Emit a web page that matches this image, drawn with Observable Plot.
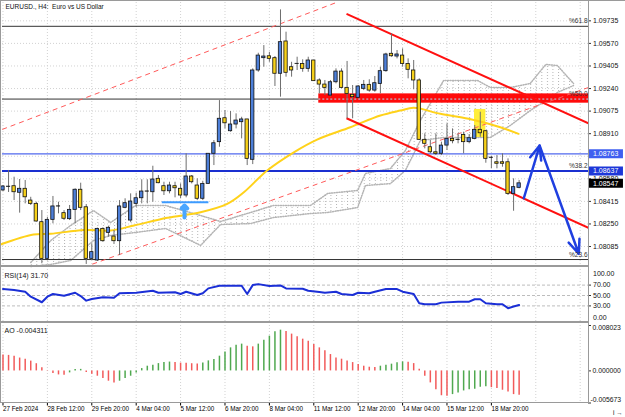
<!DOCTYPE html>
<html><head><meta charset="utf-8">
<script src="https://cdn.jsdelivr.net/npm/d3@7"></script>
<script src="https://cdn.jsdelivr.net/npm/@observablehq/plot@0.6"></script>
<style>
body{margin:0;background:#fff;}
#chart{position:relative;width:625px;height:417px;overflow:hidden;background:#fff;font-family:"Liberation Sans",Arial,sans-serif;}
#chart svg{position:absolute;left:0;}
.sep{position:absolute;background:#9a9a9a;}
</style></head><body><div id="chart"></div>
<script>
// ---------- data ----------
const title = "EURUSD., H4:  Euro vs US Dollar";
const opens  = [1.08495,1.08522,1.08526,1.08478,1.08507,1.08421,1.08397,1.08263,1.07995,1.08280,1.08378,1.08329,1.08285,1.08353,1.08500,1.08372,1.07995,1.07983,1.08214,1.08185,1.08158,1.08124,1.08368,1.08275,1.08397,1.08438,1.08487,1.08482,1.08580,1.08526,1.08489,1.08526,1.08507,1.08458,1.08597,1.08531,1.08434,1.08543,1.08763,1.08848,1.09023,1.08928,1.08977,1.08994,1.09014,1.08719,1.09372,1.09462,1.09476,1.09462,1.09348,1.09584,1.09396,1.09420,1.09420,1.09384,1.09445,1.09299,1.09269,1.09189,1.09286,1.09364,1.09245,1.09194,1.09172,1.09238,1.09267,1.09225,1.09274,1.09367,1.09494,1.09474,1.09481,1.09420,1.09372,1.09299,1.08865,1.08811,1.08774,1.08763,1.08823,1.08872,1.08865,1.08901,1.08848,1.08872,1.08938,1.08928,1.08734,1.08701,1.08701,1.08701,1.08470,1.08514];
const highs  = [1.08531,1.08641,1.08592,1.08575,1.08568,1.08445,1.08409,1.08348,1.08299,1.08451,1.08409,1.08348,1.08385,1.08507,1.08548,1.08392,1.08105,1.08220,1.08222,1.08231,1.08202,1.08421,1.08434,1.08470,1.08475,1.08573,1.08573,1.08672,1.08604,1.08555,1.08555,1.08555,1.08543,1.08763,1.08604,1.08580,1.08562,1.08763,1.08860,1.09152,1.09079,1.09072,1.09055,1.09030,1.09014,1.09384,1.09498,1.09554,1.09505,1.09474,1.09815,1.09652,1.09432,1.09469,1.09450,1.09469,1.09445,1.09311,1.09299,1.09299,1.09384,1.09384,1.09438,1.09262,1.09262,1.09299,1.09304,1.09328,1.09396,1.09498,1.09640,1.09518,1.09530,1.09457,1.09445,1.09311,1.08909,1.08860,1.08909,1.08848,1.08982,1.08945,1.08909,1.08921,1.08904,1.08970,1.09067,1.08933,1.08743,1.08750,1.08763,1.08726,1.08580,1.08568];
const lows   = [1.08487,1.08480,1.08421,1.08329,1.08397,1.08385,1.08263,1.07959,1.07990,1.08251,1.08324,1.08275,1.08275,1.08251,1.08348,1.07954,1.07983,1.07976,1.08116,1.08153,1.08100,1.08019,1.08361,1.08261,1.08372,1.08397,1.08397,1.08409,1.08544,1.08458,1.08470,1.08441,1.08434,1.08441,1.08543,1.08421,1.08421,1.08543,1.08677,1.08811,1.08945,1.08921,1.08945,1.08872,1.08677,1.08684,1.09359,1.09396,1.09432,1.09255,1.09177,1.09323,1.09323,1.09372,1.09359,1.09359,1.09294,1.09201,1.09189,1.09177,1.09274,1.09238,1.09019,1.09019,1.09165,1.09225,1.09213,1.09213,1.09201,1.09359,1.09469,1.09457,1.09396,1.09311,1.09231,1.08860,1.08799,1.08763,1.08750,1.08750,1.08787,1.08836,1.08836,1.08763,1.08836,1.08865,1.08884,1.08694,1.08653,1.08653,1.08665,1.08458,1.08343,1.08507];
const closes = [1.08524,1.08522,1.08482,1.08507,1.08445,1.08397,1.08268,1.07995,1.08280,1.08378,1.08378,1.08288,1.08353,1.08500,1.08368,1.07995,1.08044,1.08214,1.08124,1.08222,1.08124,1.08378,1.08402,1.08414,1.08438,1.08487,1.08487,1.08575,1.08548,1.08489,1.08531,1.08511,1.08458,1.08597,1.08555,1.08434,1.08543,1.08763,1.08840,1.09019,1.08986,1.08977,1.09006,1.09014,1.08726,1.09372,1.09481,1.09474,1.09457,1.09348,1.09579,1.09355,1.09372,1.09420,1.09384,1.09445,1.09294,1.09269,1.09245,1.09286,1.09364,1.09245,1.09201,1.09177,1.09255,1.09267,1.09225,1.09279,1.09367,1.09489,1.09476,1.09489,1.09420,1.09377,1.09299,1.08865,1.08836,1.08774,1.08763,1.08823,1.08872,1.08855,1.08865,1.08848,1.08877,1.08938,1.08913,1.08726,1.08734,1.08690,1.08690,1.08470,1.08519,1.08547];

const timeLabels = ["27 Feb 2024","28 Feb 12:00","29 Feb 20:00","4 Mar 04:00","5 Mar 12:00","6 Mar 20:00","8 Mar 04:00","11 Mar 12:00","12 Mar 20:00","14 Mar 04:00","15 Mar 12:00","18 Mar 20:00"];
const barsPerLabel = 8;
const priceTicks = [1.08085,1.08250,1.08415,1.08580,1.08745,1.08910,1.09075,1.09240,1.09405,1.09570,1.09735];

// moving average (yellow line) read at points: bar index, price
const maBars = [-0.45,5.5,8.6,14.6,19.4,23.6,29.6,35.6,40.4,43.4,47.6,52.4,56.6,62.6,68,71.6,74,78.8,83.9,89.6,92.9];
const maVals = [1.08100,1.08173,1.08178,1.08206,1.08202,1.08239,1.08295,1.08336,1.08397,1.08482,1.08641,1.08774,1.08867,1.08957,1.09043,1.09079,1.09099,1.09055,1.09019,1.08957,1.08909];

// Ichimoku cloud edges read at points
const cloudBars   = [5,8.6,12.2,16.3,19.4,23.9,29.3,35.6,39.2,44.6,48.7,55.4,58.5,63.9,65.3,69.8,72.5,75.2,79.4,85.5,87.8,91.4,95,97.8,99.9,102.8];
const cloudTop    = [1.07968,1.08129,1.08239,1.08348,1.08261,1.08385,1.08385,1.08312,1.08268,1.08334,1.08385,1.08385,1.08473,1.08495,1.08619,1.08655,1.08787,1.09006,1.09299,1.09299,1.09248,1.09248,1.09277,1.09416,1.09408,1.09277];
const cloudBottom = [1.07939,1.07954,1.07983,1.08129,1.08166,1.08188,1.08217,1.08093,1.08246,1.08253,1.08297,1.08326,1.08334,1.08370,1.08531,1.08545,1.08641,1.08860,1.08882,1.08882,1.08882,1.08970,1.09079,1.09152,1.09211,1.09262];

// RSI(14) read at points
const rsiBars = [0,2,4,5,7,8,9,11,13,14,15,16,18,20,21,24,27,28,31,32,33,35,36,37,39,43,44,45,46,48,50,51,54,55,57,58,60,61,63,64,66,67,69,71,72,74,75,76,78,79,82,84,85,86,87,89,90,91,92,93];
const rsiVals = [62.4,60.5,57.3,47.7,37,47.7,52.9,49.6,55.3,49,40.1,43.3,46.5,45.8,54.2,55.3,59.2,55.3,56.1,52.9,57.3,51,54.2,63.7,68.7,68.7,52.9,70,71.9,68.1,69.4,63.7,63,59.2,56.7,55.3,57.3,52.9,51,55.3,54.2,57.3,62.4,62.4,57.3,52.9,35.1,33.2,33.2,36.3,38.2,38.2,42.8,42.8,35.1,33.2,33.2,25.6,28.7,31.7];
const rsiLevels = [30,50,70];
const rsiTop = 100, rsiBottom = 0;

// Awesome Oscillator, one value per bar
const aoVals = [0.00283,0.00274,0.00257,0.00227,0.00204,0.00173,0.00127,0.00057,0.00005,-0.00048,-0.00071,-0.00078,-0.00035,0.00023,0.00027,-0.00030,-0.00058,-0.00094,-0.00136,-0.00182,-0.00212,-0.00182,-0.00136,-0.00094,-0.00035,0.00041,0.00083,0.00101,0.00129,0.00147,0.00156,0.00149,0.00138,0.00133,0.00127,0.00124,0.00138,0.00177,0.00200,0.00260,0.00336,0.00407,0.00455,0.00473,0.00437,0.00425,0.00473,0.00543,0.00614,0.00690,0.00720,0.00696,0.00650,0.00602,0.00561,0.00526,0.00467,0.00407,0.00354,0.00289,0.00230,0.00207,0.00177,0.00147,0.00112,0.00083,0.00065,0.00058,0.00083,0.00101,0.00119,0.00142,0.00159,0.00154,0.00129,0.00030,-0.00094,-0.00212,-0.00331,-0.00439,-0.00450,-0.00419,-0.00389,-0.00354,-0.00331,-0.00324,-0.00289,-0.00280,-0.00296,-0.00313,-0.00342,-0.00372,-0.00419,-0.004311];
const aoMax = 0.008023, aoMin = -0.005673;

// drawings (bar index, price)
const fibLevels = [1.09695,1.09163,1.08637,1.07990];
const fibNames  = ["%61.8","%50.0","%38.2","%23.6"];
const levelLine = 1.08763;
const channelUpper = [[61.9,1.09786],[105.5,1.08986]];
const channelLower = [[61.9,1.09023],[105.5,1.08222]];
const trendUpper   = [[-0.14,1.08941],[60.2,1.09871]];
const trendLower   = [[14.56,1.07934],[105.5,1.09248]];
const zoneBars = [56.9,105.5], zonePrices = [1.09133,1.09201];
const highlightBars = [84.96,87.0], highlightPrices = [1.08882,1.09087];
const supportBars = [28.7,37.1], supportPrice = 1.08409;
const upArrow = {bar:32.7, from:1.08297, to:1.08385};
const forecast = [[93.84,1.08438],[96.7,1.08823],[103.75,1.08032]];
const priceBoxes = [{v:1.08763,c:"#3f5ff0"},{v:1.08637,c:"#1d37d8"},{v:1.08547,c:"#000000"}];
const rsiLast = 31.70, aoLast = -0.004311;

// ---------- drawing ----------
const BLUE = "#4d7fd8", YELLOW = "#f7d11a", WICK = "#6e6e6e", GRID = "#d2d2d2";
const xDomain = [-0.09, 105.5];
const W = 625, mL = 2, mR = 37;
const barPx = (W - mL - mR) / (xDomain[1] - xDomain[0]);
const tickBars = 3 / barPx;                 // 3px tick length expressed in bar units
const gridBars = d3.range(0, 105, barsPerLabel);
const labelBars = timeLabels.map((_, k) => k * barsPerLabel);
const fontF = "Liberation Sans, Arial, sans-serif";
const xEnd = xDomain[1];

const candles = opens.map((o, i) => {
  const h = highs[i], l = lows[i], c = closes[i];
  const lo = Math.min(o, c), hi = Math.max(o, c), mid = (lo + hi) / 2, mb = 0.000014;
  return {i, o, h, l, c,
    b1: hi - lo < mb ? mid - mb / 2 : lo,
    b2: hi - lo < mb ? mid + mb / 2 : hi,
    fill: c > o ? BLUE : c < o ? YELLOW : "#222"};
});
const ma = maBars.map((b, k) => ({b, v: maVals[k]}));
const cloud = cloudBars.map((b, k) => ({b, t: cloudTop[k], u: cloudBottom[k]}));
const seg = (a) => ({x1: a[0][0], y1: a[0][1], x2: a[1][0], y2: a[1][1]});

// right-side scale labels built from marks (tick + text)
function rightLabels(values, fmt, dy, size) {
  return [
    Plot.ruleY(values, {y: d => d, x1: xEnd, x2: xEnd + tickBars, stroke: "#333"}),
    Plot.text(values, {y: d => d, x: xEnd, text: fmt, textAnchor: "start", dx: 4.5, dy, fontSize: size, fill: "#111"})
  ];
}

// hatch pattern for the cloud (vertical dotted strokes, one per bar)
const hatchDefs = () => {
  const ns = "http://www.w3.org/2000/svg";
  const defs = document.createElementNS(ns, "defs");
  const p = document.createElementNS(ns, "pattern");
  p.setAttribute("id", "cloudHatch"); p.setAttribute("patternUnits", "userSpaceOnUse");
  p.setAttribute("x", mL + 0.5 - xDomain[0] * barPx); p.setAttribute("y", 0);
  p.setAttribute("width", barPx); p.setAttribute("height", 3);
  const l = document.createElementNS(ns, "rect");
  l.setAttribute("x", 0); l.setAttribute("y", 0); l.setAttribute("width", 1); l.setAttribute("height", 1);
  l.setAttribute("fill", "#b4b4b4");
  p.appendChild(l); defs.appendChild(p);
  return defs;
};

const chart = document.getElementById("chart");
function place(svg, top) { svg.style.top = top + "px"; chart.appendChild(svg); }

// main price panel
const mainPlot = Plot.plot({
  width: W, height: 266, marginTop: 2, marginBottom: 0, marginLeft: mL, marginRight: mR,
  style: {fontFamily: fontF, fontSize: "7px", background: "transparent", overflow: "visible"},
  x: {domain: xDomain, axis: null},
  y: {domain: [1.07939, 1.09869], axis: null},
  marks: [
    hatchDefs,
    Plot.ruleY(priceTicks, {stroke: GRID, strokeDasharray: "1,2"}),
    Plot.ruleX(gridBars, {stroke: GRID, strokeDasharray: "1,2"}),
    Plot.areaY(cloud, {x: "b", y1: "u", y2: "t", fill: "url(#cloudHatch)"}),
    Plot.line(cloud, {x: "b", y: "t", stroke: "#b4b4b4", strokeDasharray: "1,1.5"}),
    Plot.line(cloud, {x: "b", y: "u", stroke: "#b4b4b4", strokeDasharray: "1,1.5"}),
    Plot.ruleY(fibLevels, {stroke: (d, k) => k === 2 ? "#1a2fd0" : "#333", strokeWidth: (d, k) => k === 2 ? 2 : 1, strokeDasharray: (d, k) => k === 2 ? "2,1.5" : "2,2"}),
    Plot.ruleY([levelLine], {stroke: "#5068ee", strokeWidth: 1.3}),
    Plot.rect([0], {x1: zoneBars[0], x2: zoneBars[1], y1: zonePrices[0], y2: zonePrices[1], fill: "#ff0a0a"}),
    Plot.ruleY([fibLevels[1]], {x1: zoneBars[0], x2: zoneBars[1], stroke: "#9fe8ff", strokeDasharray: "2,2"}),
    Plot.rect([0], {x1: highlightBars[0], x2: highlightBars[1], y1: highlightPrices[0], y2: highlightPrices[1], fill: "#ffee3a"}),
    Plot.link([seg(trendUpper), seg(trendLower)], {x1: "x1", y1: "y1", x2: "x2", y2: "y2", stroke: "#ff5a5a", strokeDasharray: "5,4", clip: true}),
    Plot.line(ma, {x: "b", y: "v", stroke: "#ffd21a", strokeWidth: 2, curve: "catmull-rom"}),
    Plot.link([seg(channelUpper), seg(channelLower)], {x1: "x1", y1: "y1", x2: "x2", y2: "y2", stroke: "#ff1010", strokeWidth: 2, clip: true}),
    Plot.ruleX(candles, {x: "i", y1: "l", y2: "h", stroke: WICK}),
    Plot.rect(candles, {x1: d => d.i - 0.3, x2: d => d.i + 0.3, y1: "b1", y2: "b2", fill: "fill", stroke: "#111", strokeWidth: 0.8}),
    Plot.ruleY([supportPrice], {x1: supportBars[0], x2: supportBars[1], stroke: "#3d9bff", strokeWidth: 2}),
    Plot.arrow([upArrow], {x1: "bar", x2: "bar", y1: "from", y2: "to", stroke: "#4aa6ff", strokeWidth: 4, headLength: 6, headAngle: 90}),
    Plot.arrow([0, 1], {x1: k => forecast[k][0], y1: k => forecast[k][1], x2: k => forecast[k + 1][0], y2: k => forecast[k + 1][1], stroke: "#1f3fe0", strokeWidth: 2.5, headLength: 9, headAngle: 45}),
    Plot.text(fibLevels, {x: xEnd, y: d => d, text: (d, k) => fibNames[k], textAnchor: "end", dx: -1, dy: -5, fontSize: 6.5, fill: "#333"}),
    ...rightLabels(priceTicks, d => d.toFixed(5), 0, 7),
    Plot.ruleY(priceBoxes, {y: "v", x1: xEnd + 0.15, x2: xEnd + 6.3, stroke: "c", strokeWidth: 9}),
    Plot.text(priceBoxes, {x: xEnd, y: "v", text: d => d.v.toFixed(5), textAnchor: "start", dx: 4.5, fill: "#fff", fontSize: 7}),
    Plot.text([title], {frameAnchor: "top-left", dx: 3, dy: 2, textAnchor: "start", lineAnchor: "top", fontSize: 6.5, fill: "#111"})
  ]
});
place(mainPlot, 0);

// RSI panel
const rsi = rsiBars.map((b, k) => ({b, v: rsiVals[k]}));
const rsiPlot = Plot.plot({
  width: W, height: 56, marginTop: 3, marginBottom: 1, marginLeft: mL, marginRight: mR,
  style: {fontFamily: fontF, fontSize: "7px", background: "transparent", overflow: "visible"},
  x: {domain: xDomain, axis: null},
  y: {domain: [rsiBottom, rsiTop], axis: null},
  marks: [
    Plot.ruleX(gridBars, {stroke: GRID, strokeDasharray: "1,2"}),
    Plot.ruleY(rsiLevels, {stroke: "#bdbdbd", strokeDasharray: "3,2"}),
    Plot.line(rsi, {x: "b", y: "v", stroke: "#1b2fd6", strokeWidth: 2}),
    ...rightLabels(rsiLevels, d => d.toFixed(2), 0, 7),
    Plot.text([rsiTop], {y: d => d, x: xEnd, text: d => d.toFixed(2), textAnchor: "start", dx: 4.5, dy: 4, fontSize: 7, fill: "#111"}),
    Plot.text([rsiBottom], {y: d => d, x: xEnd, text: d => d.toFixed(2), textAnchor: "start", dx: 4.5, dy: -3.5, fontSize: 7, fill: "#111"}),
    Plot.text([`RSI(14) ${rsiLast.toFixed(2)}`], {frameAnchor: "top-left", dx: 2, dy: 4, textAnchor: "start", lineAnchor: "top", fontSize: 7, fill: "#111"})
  ]
});
place(rsiPlot, 266);

// AO panel
const ao = aoVals.map((v, i) => ({i, v, up: i > 0 && v > aoVals[i - 1]}));
const aoPlot = Plot.plot({
  width: W, height: 95, marginTop: 3, marginBottom: 14.5, marginLeft: mL, marginRight: mR,
  style: {fontFamily: fontF, fontSize: "6.5px", background: "transparent", overflow: "visible"},
  x: {domain: xDomain, axis: null},
  y: {domain: [aoMin, aoMax], axis: null},
  marks: [
    Plot.ruleX(gridBars, {stroke: GRID, strokeDasharray: "1,2"}),
    Plot.ruleX(ao, {x: "i", y1: 0, y2: "v", stroke: d => d.up ? "#4fa84f" : "#f25a5a", strokeWidth: 1.5}),
    Plot.ruleY([aoMin, 0, aoMax], {y: d => d, x1: xEnd, x2: xEnd + tickBars, stroke: "#333"}),
    Plot.text([0], {y: d => d, x: xEnd, text: d => d.toFixed(6), textAnchor: "start", dx: 4, fontSize: 6.8, fill: "#111"}),
    Plot.text([aoMax], {y: d => d, x: xEnd, text: d => d.toFixed(6), textAnchor: "start", dx: 4, dy: 2.5, fontSize: 6.8, fill: "#111"}),
    Plot.text([aoMin], {y: d => d, x: xEnd, text: d => d.toFixed(6), textAnchor: "start", dx: 2, dy: -3.5, fontSize: 6.8, fill: "#111"}),
    Plot.axisX({anchor: "bottom", ticks: labelBars, tickFormat: d => timeLabels[d / barsPerLabel], textAnchor: "start", tickSize: 3, tickPadding: 1, fontSize: 6.3}),
    Plot.text([`AO ${aoLast}`], {frameAnchor: "top-left", dx: 2, dy: 3, textAnchor: "start", lineAnchor: "top", fontSize: 7, fill: "#111"})
  ]
});
place(aoPlot, 322);

// panel frame lines
[[0,0,625,1],[0,0,1,403],[588,0,1,403],[0,265,589,2],[0,321,589,2],[0,402,589,1]].forEach(([x,y,w,h]) => {
  const d = document.createElement("div"); d.className = "sep";
  Object.assign(d.style, {left: x + "px", top: y + "px", width: w + "px", height: h + "px"});
  chart.appendChild(d);
});
</script></body></html>
